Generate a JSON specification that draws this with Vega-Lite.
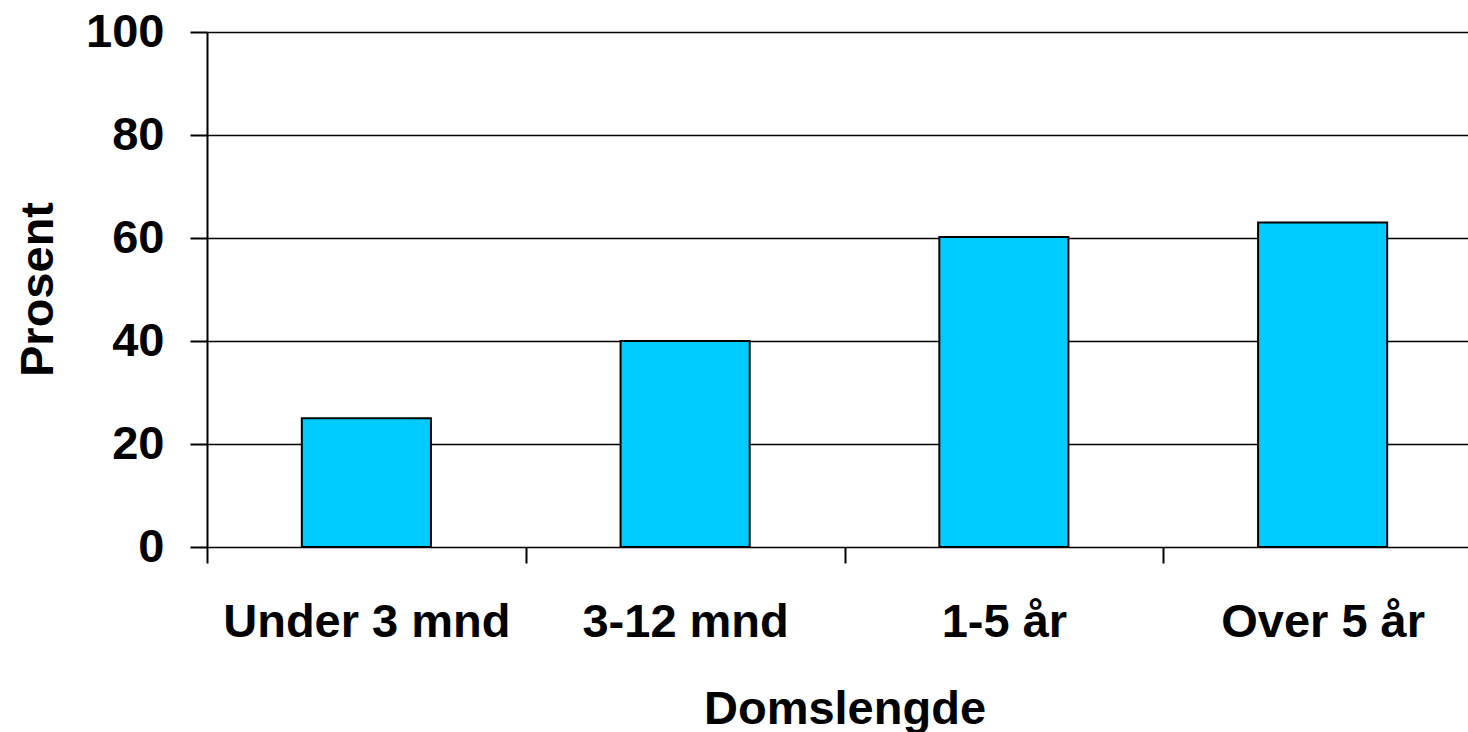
{
  "$schema": "https://vega.github.io/schema/vega-lite/v6.json",
  "width": 1261,
  "height": 515,
  "autosize": {"type": "none"},
  "padding": {"left": 207, "top": 32, "right": 0, "bottom": 185},
  "background": "white",
  "config": {"view": {"stroke": null}, "font": "Liberation Sans"},
  "data": {
    "values": [
      {"Domslengde": "Under 3 mnd", "Prosent": 25},
      {"Domslengde": "3-12 mnd", "Prosent": 40},
      {"Domslengde": "1-5 år", "Prosent": 60.2},
      {"Domslengde": "Over 5 år", "Prosent": 63}
    ]
  },
  "mark": {"type": "bar", "fill": "#00CCFF", "stroke": "#000000", "strokeWidth": 2, "width": {"band": 0.405}},
  "encoding": {
    "x": {
      "field": "Domslengde",
      "type": "nominal",
      "sort": null,
      "scale": {"range": [0, 1275], "paddingInner": 0, "paddingOuter": 0},
      "axis": {
        "labelAngle": 0,
        "labelFont": "Liberation Sans",
        "labelFontSize": 47,
        "labelFontWeight": "bold",
        "labelColor": "#000000",
        "labelPadding": 36,
        "labelBaseline": "top",
        "labelLimit": 0,
        "tickBand": "extent",
        "tickSize": 16,
        "tickColor": "#000000",
        "tickWidth": 2,
        "domain": false,
        "grid": false,
        "title": "Domslengde",
        "titleFont": "Liberation Sans",
        "titleFontSize": 47,
        "titleFontWeight": "bold",
        "titleColor": "#000000",
        "titleBaseline": "alphabetic",
        "titleY": 176,
        "titleX": 637.5,
        "titleAlign": "center"
      }
    },
    "y": {
      "field": "Prosent",
      "type": "quantitative",
      "scale": {"domain": [0, 100], "nice": false},
      "axis": {
        "values": [0, 20, 40, 60, 80, 100],
        "labelFont": "Liberation Sans",
        "labelFontSize": 47,
        "labelFontWeight": "bold",
        "labelColor": "#000000",
        "labelPadding": 26,
        "tickSize": 17,
        "tickColor": "#000000",
        "tickWidth": 2,
        "domain": true,
        "domainColor": "#000000",
        "domainWidth": 2,
        "grid": true,
        "gridColor": "#000000",
        "gridWidth": 1.6,
        "gridOpacity": 1,
        "title": "Prosent",
        "titleFont": "Liberation Sans",
        "titleFontSize": 47,
        "titleFontWeight": "bold",
        "titleColor": "#000000",
        "titleAngle": 270,
        "titleBaseline": "alphabetic",
        "titleAlign": "center",
        "titleX": -155,
        "titleY": 257
      }
    }
  }
}
